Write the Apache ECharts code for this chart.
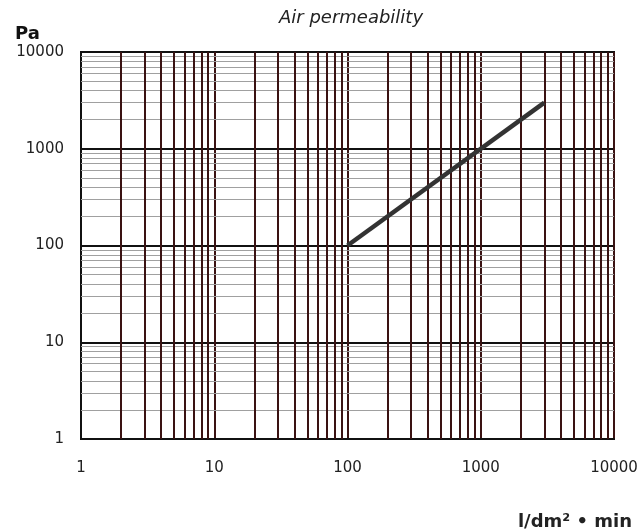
<!DOCTYPE html>
<html>
<head>
<meta charset="utf-8">
<script src="https://cdn.jsdelivr.net/npm/echarts@6/dist/echarts.min.js"></script>
<style>html,body{margin:0;padding:0;background:#fff;}#c{width:643px;height:531px;}</style>
</head>
<body>
<div id="c"></div>
<script>
var titleText = 'Air permeability';
var yName = 'Pa';
var xName = 'l/dm\u00b2 \u2022 min';
var lineX = [100, 3000];
var lineY = [100, 3000];
var minorX = [2,3,4,5,6,7,8,9,20,30,40,50,60,70,80,90,200,300,400,500,600,700,800,900,2000,3000,4000,5000,6000,7000,8000,9000];
var minorY = [2,3,4,5,6,7,8,9,20,30,40,50,60,70,80,90,200,300,400,500,600,700,800,900,2000,3000,4000,5000,6000,7000,8000,9000];

var maroon = '#3a1212';
var chart = echarts.init(document.getElementById('c'), null, {renderer:'canvas'});
var font = 'DejaVu Sans';
function fmt(v) { return String(Math.round(v)); }
chart.setOption({
  animation: false,
  backgroundColor: '#fff',
  title: {
    text: titleText, left: 346, textAlign: 'center', top: 4,
    textStyle: {fontFamily: font, fontStyle: 'italic', fontWeight: 'normal', fontSize: 18, color: '#222'}
  },
  grid: {left: 81, right: 29, top: 52, bottom: 90, show: true, borderColor: '#111', borderWidth: 2, backgroundColor: 'transparent'},
  xAxis: {
    type: 'log', logBase: 10, min: 1, max: 10000,
    name: xName, nameLocation: 'end', nameGap: 0,
    nameTextStyle: {fontFamily: font, fontWeight: 'bold', fontSize: 18, color: '#222', align: 'right', verticalAlign: 'top', padding: [74, -18, 0, 0]},
    axisLine: {show: true, lineStyle: {color: '#111', width: 2}},
    axisTick: {show: false},
    axisLabel: {fontFamily: font, fontSize: 15, color: '#222', margin: 22, showMaxLabel: true, formatter: fmt},
    splitLine: {show: true, lineStyle: {color: maroon, width: 2}}
  },
  yAxis: {
    type: 'log', logBase: 10, min: 1, max: 10000,
    name: yName, nameLocation: 'end', nameGap: 9,
    nameTextStyle: {fontFamily: font, fontWeight: 'bold', fontSize: 18, color: '#111', align: 'left', padding: [0, 0, 0, -66]},
    axisLine: {show: true, lineStyle: {color: '#111', width: 2}},
    axisTick: {show: false},
    axisLabel: {fontFamily: font, fontSize: 15, color: '#222', margin: 17, formatter: fmt},
    splitLine: {show: true, lineStyle: {color: '#111', width: 2}}
  },
  series: [
    {
      type: 'line', data: [], z: 1, silent: true,
      markLine: {
        silent: true, symbol: ['none', 'none'], label: {show: false},
        lineStyle: {color: '#a0a0a0', width: 1, type: 'solid'},
        emphasis: {disabled: true},
        data: minorY.map(function (v) { return {yAxis: v}; })
      }
    },
    {
      type: 'line', data: [], z: 2, silent: true,
      markLine: {
        silent: true, symbol: ['none', 'none'], label: {show: false},
        lineStyle: {color: maroon, width: 2, type: 'solid'},
        emphasis: {disabled: true},
        data: minorX.map(function (v) { return {xAxis: v}; })
      }
    },
    {
      type: 'line', z: 5, symbol: 'none',
      data: lineX.map(function (x, i) { return [x, lineY[i]]; }),
      lineStyle: {color: '#333', width: 4.5}
    }
  ]
});
</script>
</body>
</html>
